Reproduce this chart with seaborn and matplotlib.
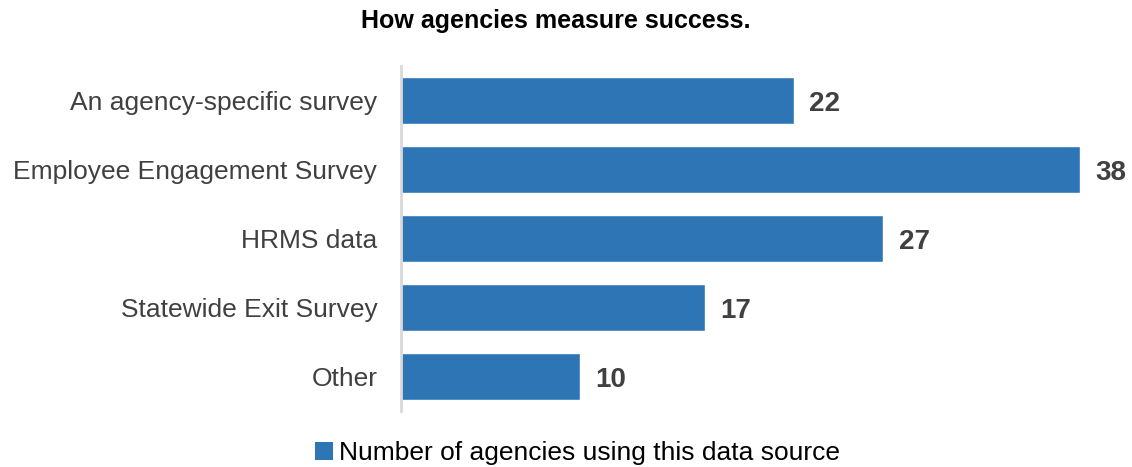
import matplotlib
matplotlib.use("Agg")
import matplotlib.pyplot as plt
import seaborn as sns
import pandas as pd
from matplotlib.patches import Patch

categories = [
    "An agency-specific survey",
    "Employee Engagement Survey",
    "HRMS data",
    "Statewide Exit Survey",
    "Other",
]
counts = [22, 38, 27, 17, 10]
series_name = "Number of agencies using this data source"
title = "How agencies measure success."

bar_color = "#2E75B6"
text_color = "#404040"

sns.set_theme(style="white")
plt.rcParams["font.family"] = ["Liberation Sans", "DejaVu Sans"]

df = pd.DataFrame({"category": categories, "count": counts})

fig = plt.figure(figsize=(11.32, 4.67), dpi=100)
ax = fig.add_axes([0.3542, 0.1199, 0.6315, 0.7388])

sns.barplot(data=df, x="count", y="category", orient="h", color=bar_color,
            saturation=1, width=0.68, ax=ax)

ax.set_xlim(0, 40)
ax.set_ylim(4.5, -0.5)
ax.set_xlabel("")
ax.set_ylabel("")
ax.set_xticks([])
for s in ["top", "right", "bottom"]:
    ax.spines[s].set_visible(False)
ax.spines["left"].set_color("#D9D9D9")
ax.spines["left"].set_linewidth(2)
ax.tick_params(axis="y", length=0, pad=17, labelsize=19, labelcolor=text_color)

for container in ax.containers:
    texts = ax.bar_label(container, labels=[str(v) for v in counts], padding=11,
                         fontsize=20, fontweight="bold", color=text_color)
    for t in texts:
        t.set_va("center")
        t.xyann = (11, -2.5)

fig.suptitle(title, x=0.491, y=0.98, fontsize=18, fontweight="bold",
             color="black", va="top")

handles = [Patch(facecolor=bar_color, edgecolor="none")]
fig.legend(handles, [series_name], loc="center", bbox_to_anchor=(0.51, 0.03),
           frameon=False, fontsize=19, handlelength=0.7, handleheight=0.7,
           handletextpad=0.2, labelcolor="black")

fig.savefig("out.png", dpi=100)
